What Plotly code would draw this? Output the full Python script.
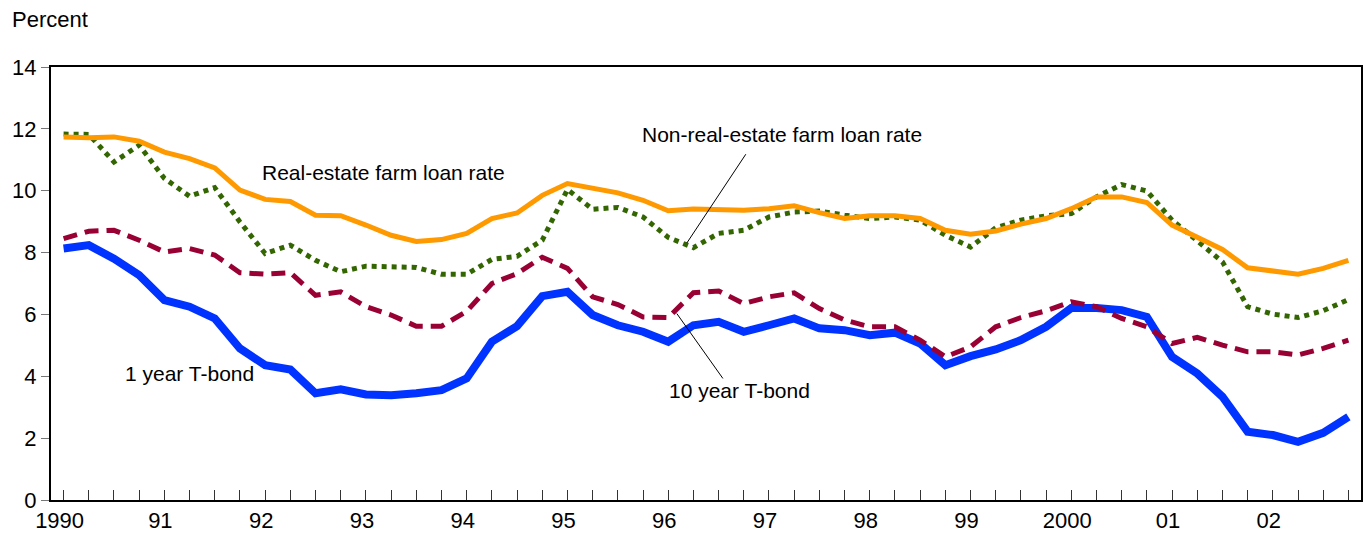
import plotly.graph_objects as go

years = list(range(1990, 2003))
quarters = [f"{y}Q{q}" for y in years for q in range(1, 5)]
year_labels = ["1990", "91", "92", "93", "94", "95", "96", "97", "98", "99", "2000", "01", "02"]

real_estate = [11.74, 11.71, 11.74, 11.60, 11.25, 11.04, 10.74, 10.02, 9.72, 9.65, 9.21, 9.19,
               8.89, 8.56, 8.36, 8.42, 8.62, 9.10, 9.28, 9.85, 10.23, 10.10, 9.93, 9.69,
               9.35, 9.41, 9.39, 9.37, 9.42, 9.51, 9.29, 9.10, 9.19, 9.19, 9.10, 8.72,
               8.59, 8.70, 8.92, 9.10, 9.42, 9.80, 9.80, 9.62, 8.89, 8.49, 8.10, 7.51,
               7.41, 7.30, 7.49, 7.75]
non_real_estate = [11.83, 11.82, 10.93, 11.47, 10.40, 9.82, 10.10, 8.99, 7.97, 8.24, 7.75, 7.38,
                   7.56, 7.52, 7.52, 7.30, 7.30, 7.78, 7.88, 8.40, 10.04, 9.40, 9.46, 9.15,
                   8.49, 8.16, 8.62, 8.72, 9.15, 9.31, 9.34, 9.21, 9.10, 9.15, 9.05, 8.56,
                   8.18, 8.80, 9.05, 9.19, 9.26, 9.80, 10.20, 9.99, 9.05, 8.38, 7.70, 6.25,
                   6.01, 5.90, 6.12, 6.48]
ten_year = [8.45, 8.69, 8.72, 8.40, 8.02, 8.13, 7.92, 7.35, 7.30, 7.35, 6.62, 6.73,
            6.25, 5.98, 5.62, 5.62, 6.10, 7.00, 7.32, 7.85, 7.49, 6.57, 6.32, 5.92,
            5.90, 6.70, 6.76, 6.35, 6.57, 6.70, 6.19, 5.82, 5.60, 5.60, 5.17, 4.63,
            4.95, 5.60, 5.90, 6.12, 6.41, 6.25, 5.87, 5.60, 5.06, 5.26, 5.01, 4.79,
            4.79, 4.69, 4.90, 5.17]
one_year = [8.13, 8.24, 7.80, 7.27, 6.46, 6.25, 5.87, 4.90, 4.36, 4.22, 3.45, 3.58,
            3.41, 3.39, 3.45, 3.55, 3.93, 5.12, 5.62, 6.59, 6.73, 5.98, 5.65, 5.44,
            5.12, 5.65, 5.76, 5.44, 5.65, 5.87, 5.55, 5.49, 5.33, 5.41, 5.06, 4.36,
            4.65, 4.87, 5.17, 5.60, 6.21, 6.21, 6.14, 5.92, 4.63, 4.09, 3.34, 2.21,
            2.10, 1.88, 2.17, 2.69]

font = "Liberation Sans, Arial, sans-serif"

fig = go.Figure()
fig.add_trace(go.Scatter(x=quarters, y=one_year, mode="lines",
                         line=dict(color="#0033FF", width=8), name="1 year T-bond"))
fig.add_trace(go.Scatter(x=quarters, y=ten_year, mode="lines",
                         line=dict(color="#990033", width=5, dash="14px,8px"), name="10 year T-bond"))
fig.add_trace(go.Scatter(x=quarters, y=non_real_estate, mode="lines",
                         line=dict(color="#336600", width=5, dash="dot"), name="Non-real-estate"))
fig.add_trace(go.Scatter(x=quarters, y=real_estate, mode="lines",
                         line=dict(color="#FF9900", width=5), name="Real-estate"))

tickvals = quarters
ticktext = [year_labels[i // 4] if i % 4 == 0 else "" for i in range(len(quarters))]

fig.update_layout(
    width=1363, height=537,
    margin=dict(l=51, r=2, t=67, b=37, autoexpand=False),
    paper_bgcolor="white", plot_bgcolor="white",
    showlegend=False,
    font=dict(family=font, size=21, color="black"),
    xaxis=dict(type="category", range=[-0.5, 51.5], tickmode="array",
               tickvals=tickvals, ticktext=ticktext, ticks="inside", ticklen=10,
               tickcolor="#333", tickwidth=1, showgrid=False, zeroline=False,
               showline=True, linecolor="black", linewidth=2, mirror=True,
               tickfont=dict(size=22), automargin=False, ticklabelshift=-4),
    yaxis=dict(range=[0, 14], tickvals=[0, 2, 4, 6, 8, 10, 12, 14], ticks="outside",
               ticklen=8, tickcolor="#777", tickwidth=1, showgrid=False, zeroline=False,
               showline=True, linecolor="black", linewidth=2, mirror=True,
               tickfont=dict(size=22), automargin=False),
    annotations=[
        dict(text="Percent", xref="paper", yref="paper", x=-0.031, y=1.11,
             xanchor="left", yanchor="middle", showarrow=False, font=dict(size=22)),
        dict(text="Real-estate farm loan rate", xref="x", yref="y", x=7.8, y=10.6,
             xanchor="left", yanchor="middle", showarrow=False),
        dict(text="Non-real-estate farm loan rate", xref="x", yref="y", x=22.87, y=11.83,
             xanchor="left", yanchor="middle", showarrow=False),
        dict(text="1 year T-bond", xref="x", yref="y", x=2.37, y=4.1,
             xanchor="left", yanchor="middle", showarrow=False),
        dict(text="10 year T-bond", xref="x", yref="y", x=23.95, y=3.55,
             xanchor="left", yanchor="middle", showarrow=False),
    ],
    shapes=[
        dict(type="line", xref="x", yref="y", x0=27.08, y0=11.18, x1=24.74, y1=8.31,
             line=dict(color="black", width=1)),
        dict(type="line", xref="x", yref="y", x0=24.34, y0=6.03, x1=26.17, y1=3.93,
             line=dict(color="black", width=1)),
    ],
)

fig.write_html("out.html", config={"displayModeBar": False},
               post_script="document.body.style.margin='0';document.body.style.overflow='hidden';")
